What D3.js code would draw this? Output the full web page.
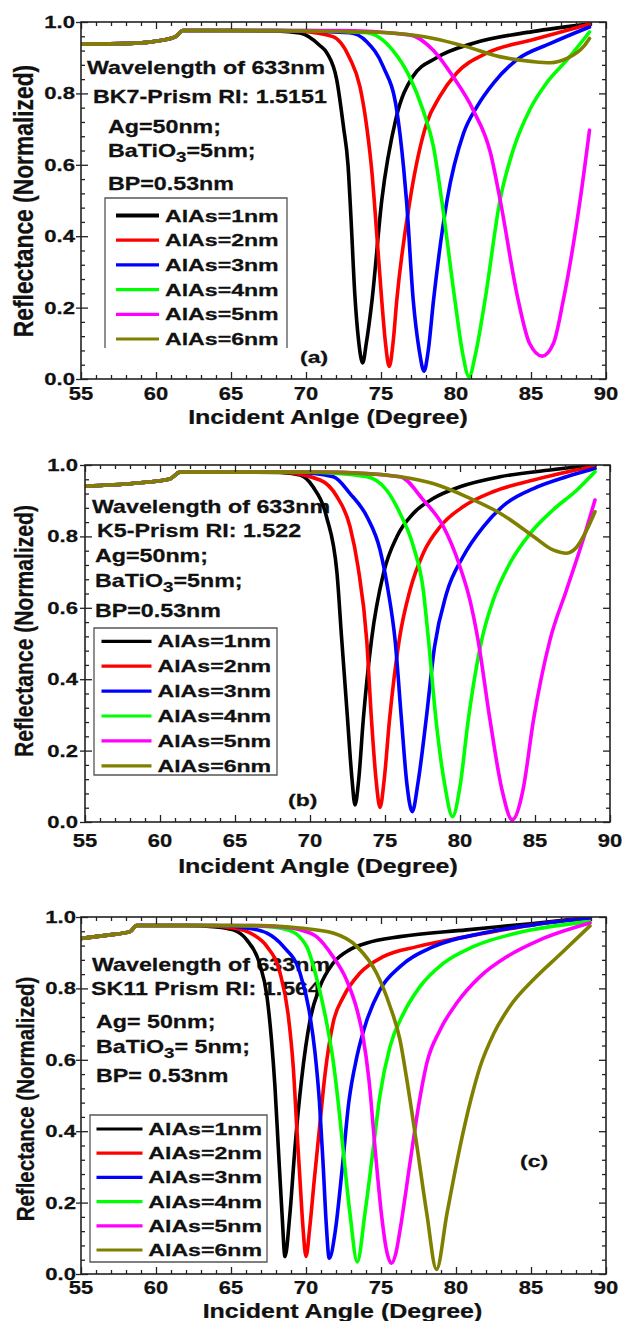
<!DOCTYPE html>
<html><head><meta charset="utf-8">
<script src="https://cdn.jsdelivr.net/npm/d3@7"></script>
<style>
body{margin:0;background:#fff}
svg{display:block}
text{font-family:"Liberation Sans",Arial,sans-serif;font-weight:bold;fill:#111;stroke:#111;stroke-width:0.25}
</style>
</head><body>
<svg id="c" width="622" height="1321"></svg>
<script>
// ---------------- DATA ----------------
const xTicks = [55, 60, 65, 70, 75, 80, 85, 90];
const xTickLabels = ["55", "60", "65", "70", "75", "80", "85", "90"];
const yTicks = [0.0, 0.2, 0.4, 0.6, 0.8, 1.0];
const yTickLabels = ["0.0", "0.2", "0.4", "0.6", "0.8", "1.0"];
const seriesNames = ["AlAs=1nm", "AlAs=2nm", "AlAs=3nm", "AlAs=4nm", "AlAs=5nm", "AlAs=6nm"];
const seriesColors = ["#000000", "#ff0000", "#0000ff", "#00ff00", "#ff00ff", "#808000"];

// panel (a) BK7
const baseA = [[55,0.938],[58.3,0.940],[60.3,0.948],[61.3,0.959],[61.8,0.976]];
const a1 = [[65,0.976],[68,0.975],[69.6,0.969],[70.9,0.935],[71.4,0.913],[72.05,0.838],[72.5,0.706],[72.8,0.60],[73.0,0.45],[73.25,0.24],[73.5,0.11],[73.78,0.045],[74.02,0.10],[74.4,0.22],[75.05,0.50],[76.0,0.73],[77.1,0.846],[78.7,0.90],[81.1,0.94],[85.1,0.973],[88.9,0.994]];
const a2 = [[68,0.976],[69.6,0.974],[71.8,0.959],[72.9,0.90],[73.6,0.818],[74.05,0.706],[74.4,0.577],[74.55,0.50],[75.05,0.22],[75.3,0.10],[75.55,0.035],[75.8,0.10],[76.05,0.22],[76.93,0.50],[78.05,0.717],[78.9,0.79],[80.05,0.857],[82.05,0.913],[85.1,0.95],[88.9,0.994]];
const a3 = [[68,0.976],[72.9,0.97],[74.05,0.945],[75.15,0.875],[76.05,0.753],[76.5,0.595],[76.7,0.50],[77.15,0.22],[77.55,0.08],[77.87,0.022],[78.15,0.08],[78.5,0.22],[79.4,0.50],[80.5,0.688],[81.4,0.763],[82.5,0.829],[84.05,0.894],[86.3,0.94],[88.9,0.986]];
const a4 = [[70,0.976],[74.05,0.97],[75.8,0.92],[76.9,0.847],[77.8,0.753],[78.5,0.65],[79.05,0.50],[79.93,0.22],[80.45,0.07],[80.87,0.006],[81.3,0.07],[81.93,0.22],[82.93,0.50],[83.8,0.64],[84.9,0.753],[86.05,0.83],[87.4,0.894],[88.9,0.972]];
const a5 = [[72,0.976],[76.9,0.964],[78.5,0.92],[79.8,0.847],[81.15,0.753],[82.3,0.633],[82.95,0.50],[84.15,0.22],[84.9,0.10],[85.75,0.064],[86.5,0.10],[87.15,0.22],[88.27,0.50],[88.9,0.697]];
const a6 = [[69.6,0.975],[74.05,0.972],[76.3,0.967],[78.5,0.954],[80.7,0.931],[82.9,0.903],[85.15,0.889],[86.3,0.886],[87.4,0.898],[88.5,0.931],[88.9,0.954]];

// panel (b) K5
const baseB = [[55,0.941],[58.3,0.949],[60.67,0.961],[61.33,0.980]];
const b1 = [[65,0.980],[68,0.979],[69.33,0.972],[70.2,0.939],[71.1,0.855],[71.8,0.697],[72.1,0.52],[72.5,0.29],[72.8,0.12],[73.0,0.048],[73.25,0.12],[73.55,0.286],[74.1,0.51],[74.9,0.697],[75.8,0.80],[76.9,0.865],[78.2,0.906],[80.0,0.939],[82.67,0.967],[86.0,0.986],[89.0,1.0]];
const b2 = [[68,0.980],[70.67,0.958],[71.8,0.911],[72.67,0.827],[73.2,0.715],[73.78,0.51],[74.1,0.286],[74.4,0.12],[74.67,0.041],[74.95,0.12],[75.3,0.286],[75.95,0.51],[76.67,0.65],[77.55,0.753],[78.67,0.827],[80.2,0.883],[82.2,0.925],[84.9,0.958],[89.0,0.997]];
const b3 = [[69,0.980],[71.55,0.967],[72.67,0.92],[73.8,0.855],[74.67,0.762],[75.2,0.65],[75.67,0.51],[76.1,0.286],[76.45,0.11],[76.82,0.029],[77.2,0.11],[77.75,0.29],[78.3,0.49],[79.1,0.64],[80.2,0.743],[81.55,0.827],[83.1,0.893],[84.9,0.934],[87.1,0.967],[89.0,0.99]];
const b4 = [[70,0.980],[73.8,0.967],[75.1,0.93],[76.0,0.865],[76.9,0.771],[77.55,0.65],[77.9,0.51],[78.4,0.286],[79.0,0.10],[79.5,0.015],[80.0,0.10],[80.55,0.286],[81.45,0.51],[82.2,0.62],[83.33,0.725],[84.67,0.808],[86.2,0.874],[87.8,0.93],[89.0,0.981]];
const b5 = [[71,0.980],[76.0,0.967],[77.55,0.902],[78.9,0.827],[80.0,0.715],[80.67,0.62],[81.2,0.51],[82.0,0.286],[82.8,0.09],[83.48,0.006],[84.2,0.09],[84.9,0.286],[86.0,0.51],[87.1,0.65],[88.2,0.79],[89.0,0.902]];
const b6 = [[70,0.980],[73.8,0.976],[76.0,0.967],[78.2,0.948],[80.45,0.911],[82.67,0.865],[84.9,0.80],[86.2,0.762],[87.1,0.753],[87.8,0.771],[88.45,0.818],[89.0,0.869]];

// panel (c) SK11
const baseC = [[55,0.940],[56.9,0.950],[58.27,0.959],[58.7,0.976]];
const c1 = [[62,0.976],[63.8,0.973],[65.15,0.964],[66.05,0.936],[66.9,0.87],[67.4,0.777],[67.7,0.655],[67.93,0.525],[68.15,0.357],[68.4,0.17],[68.6,0.049],[68.93,0.17],[69.27,0.357],[69.7,0.543],[70.27,0.711],[70.93,0.805],[71.8,0.87],[72.9,0.908],[74.05,0.927],[76.27,0.945],[80.7,0.964],[85.15,0.982],[88.93,0.999]];
const c2 = [[63,0.976],[65.15,0.969],[66.5,0.95],[67.4,0.917],[68.27,0.843],[68.8,0.73],[69.15,0.58],[69.4,0.40],[69.6,0.263],[69.8,0.13],[70.0,0.049],[70.25,0.13],[70.55,0.263],[70.93,0.422],[71.27,0.56],[71.8,0.702],[72.5,0.777],[73.6,0.843],[75.15,0.889],[77.4,0.917],[80.7,0.945],[85.15,0.978],[88.93,0.997]];
const c3 = [[64,0.976],[66.05,0.969],[67.4,0.955],[68.5,0.917],[69.6,0.843],[70.2,0.74],[70.6,0.62],[70.9,0.48],[71.15,0.30],[71.35,0.14],[71.55,0.044],[71.95,0.12],[72.4,0.29],[72.85,0.48],[73.4,0.61],[74.05,0.71],[74.93,0.796],[76.27,0.861],[78.5,0.917],[81.8,0.955],[85.15,0.978],[88.93,0.997]];
const c4 = [[65,0.976],[67.5,0.973],[68.93,0.962],[70.05,0.917],[70.7,0.83],[71.3,0.72],[71.8,0.60],[72.15,0.48],[72.5,0.338],[72.93,0.17],[73.42,0.034],[73.93,0.17],[74.5,0.357],[74.93,0.50],[75.6,0.637],[76.5,0.73],[77.6,0.805],[79.15,0.87],[81.15,0.917],[84.05,0.955],[88.93,0.987]];
const c5 = [[66,0.976],[68.5,0.972],[69.6,0.964],[70.7,0.945],[71.8,0.889],[72.7,0.824],[73.4,0.74],[73.8,0.665],[74.2,0.543],[74.65,0.33],[75.05,0.16],[75.35,0.07],[75.7,0.03],[76.0,0.06],[76.27,0.123],[76.93,0.31],[77.5,0.47],[78.05,0.59],[78.93,0.683],[80.05,0.759],[81.6,0.833],[83.4,0.889],[85.6,0.936],[88.93,0.983]];
const c6 = [[67,0.976],[69.6,0.969],[71.8,0.955],[73.4,0.917],[74.7,0.843],[75.6,0.75],[76.27,0.655],[76.7,0.55],[77.4,0.357],[78.05,0.17],[78.7,0.013],[79.4,0.17],[80.27,0.357],[81.0,0.49],[81.6,0.58],[82.5,0.672],[83.6,0.75],[85.15,0.824],[86.93,0.895],[88.93,0.975]];

// ---------------- LAYOUT ----------------
const panels = [
  {x0:81, y0:22, w:525, h:357, base:baseA, series:[a1,a2,a3,a4,a5,a6], yLabDx:-6, xLabDy:21,
   xTitle:"Incident Anlge (Degree)", xTitleX:328, xTitleY:424, yTitleX:33, yTitleY:201, yTitleSize:22.8,
   tag:"(a)", tagX:300, tagY:363,
   notes:[{t:"Wavelength of 633nm",x:87,y:74},{t:"BK7-Prism RI: 1.5151",x:93,y:103},{t:"Ag=50nm;",x:108,y:133},{t:"BaTiO|3|=5nm;",x:108,y:157},{t:"BP=0.53nm",x:108,y:190}],
   leg:{x1:105,x2:287,top:198,bottom:348,noBottom:true,lx1:116,lx2:159,tx:165,row0:221.5,dy:24.7}},
  {x0:85, y0:465, w:525, h:357, base:baseB, series:[b1,b2,b3,b4,b5,b6], yLabDx:-7, xLabDy:24.5,
   xTitle:"Incident Angle (Degree)", xTitleX:318, xTitleY:873, yTitleX:33, yTitleY:631, yTitleSize:21.1,
   tag:"(b)", tagX:288, tagY:806,
   notes:[{t:"Wavelength of 633nm",x:92,y:512.5},{t:"K5-Prism RI: 1.522",x:97,y:536.5},{t:"Ag=50nm;",x:95,y:561.5},{t:"BaTiO|3|=5nm;",x:95,y:586.5},{t:"BP=0.53nm",x:95,y:617}],
   leg:{x1:94,x2:277,top:628,bottom:775,noBottom:false,lx1:101.5,lx2:151.5,tx:157.5,row0:647.3,dy:24.9}},
  {x0:81, y0:917, w:525, h:357, base:baseC, series:[c1,c2,c3,c4,c5,c6], yLabDx:-5, xLabDy:20,
   xTitle:"Incident Angle (Degree)", xTitleX:342.5, xTitleY:1318, yTitleX:34, yTitleY:1099, yTitleSize:20.5,
   tag:"(c)", tagX:520, tagY:1167,
   notes:[{t:"Wavelength of 633nm",x:92,y:970.5},{t:"SK11 Prism RI: 1.564",x:91,y:995},{t:"Ag= 50nm;",x:96,y:1028},{t:"BaTiO|3|= 5nm;",x:96,y:1053},{t:"BP= 0.53nm",x:96,y:1081.5}],
   leg:{x1:90,x2:267,top:1115,bottom:1262,noBottom:false,lx1:96.5,lx2:142.5,tx:148.3,row0:1135,dy:24.2}}
];

// ---------------- DRAW ----------------
const svg = d3.select("#c");
svg.append("rect").attr("width",622).attr("height",1321).attr("fill","#fff");

function T(g, x, y, s, size, sx, anchor){
  const t = g.append("text")
    .attr("transform", `translate(${x},${y}) scale(${sx},1)`)
    .attr("font-size", size)
    .attr("text-anchor", anchor || "start");
  if (s != null) t.text(s);
  return t;
}

const minorX = d3.range(55, 91).filter(v => v % 5 !== 0);
const minorY = d3.range(1, 25).filter(i => i % 5 !== 0).map(i => i * 0.04);

panels.forEach((p, pi) => {
  const x = d3.scaleLinear().domain([55, 90]).range([p.x0, p.x0 + p.w]);
  const y = d3.scaleLinear().domain([0, 1]).range([p.y0 + p.h, p.y0]);
  const g = svg.append("g");

  // annotations
  p.notes.forEach(n => {
    if (n.t.includes("|")) {
      const parts = n.t.split("|");
      const t = T(g, n.x, n.y, null, 18.6, 1.25);
      t.append("tspan").text(parts[0]);
      t.append("tspan").attr("font-size", 15).attr("dy", 5).text(parts[1]);
      t.append("tspan").attr("dy", -5).text(parts[2]);
    } else {
      T(g, n.x, n.y, n.t, 18.6, 1.25);
    }
  });

  // legend
  const L = p.leg;
  const lg = g.append("g");
  const bp = L.noBottom
    ? `M${L.x1},${L.bottom}V${L.top}H${L.x2}V${L.bottom}`
    : `M${L.x1},${L.top}H${L.x2}V${L.bottom}H${L.x1}Z`;
  lg.append("path").attr("d", bp).attr("fill", "none").attr("stroke", "#555").attr("stroke-width", 1.3);
  seriesNames.forEach((nm, i) => {
    const ty = L.row0 + i * L.dy;
    lg.append("line").attr("x1", L.lx1).attr("x2", L.lx2).attr("y1", ty - 6).attr("y2", ty - 6)
      .attr("stroke", seriesColors[i]).attr("stroke-width", (pi === 0 && i === 0) ? 4 : 3.2);
    T(lg, L.tx, ty, nm, 17, 1.36);
  });

  // curves
  const clipId = "clip" + pi;
  svg.append("clipPath").attr("id", clipId).append("rect")
    .attr("x", p.x0).attr("y", p.y0).attr("width", p.w).attr("height", p.h);
  const line = d3.line().x(d => x(d[0])).y(d => y(d[1])).curve(d3.curveMonotoneX);
  const cg = g.append("g").attr("clip-path", `url(#${clipId})`);
  p.series.forEach((s, i) => {
    cg.append("path").datum(p.base.concat(s)).attr("d", line)
      .attr("fill", "none").attr("stroke", seriesColors[i]).attr("stroke-width", 3.6)
      .attr("stroke-linejoin", "round").attr("stroke-linecap", "round");
  });

  // axes ticks
  const tickStyle = sel => { sel.select(".domain").remove(); sel.selectAll("line").attr("stroke", "#222").attr("stroke-width", 1.3); };
  const yb = p.y0 + p.h, xr = p.x0 + p.w;
  g.append("g").attr("transform", `translate(0,${yb})`).call(d3.axisBottom(x).tickValues(xTicks).tickSize(-7).tickSizeOuter(0).tickFormat("")).call(tickStyle);
  g.append("g").attr("transform", `translate(0,${yb})`).call(d3.axisBottom(x).tickValues(minorX).tickSize(-4).tickSizeOuter(0).tickFormat("")).call(tickStyle);
  g.append("g").attr("transform", `translate(0,${p.y0})`).call(d3.axisTop(x).tickValues(xTicks).tickSize(-7).tickSizeOuter(0).tickFormat("")).call(tickStyle);
  g.append("g").attr("transform", `translate(0,${p.y0})`).call(d3.axisTop(x).tickValues(minorX).tickSize(-4).tickSizeOuter(0).tickFormat("")).call(tickStyle);
  g.append("g").attr("transform", `translate(${p.x0},0)`).call(d3.axisLeft(y).tickValues(yTicks).tickSize(-7).tickSizeOuter(0).tickFormat("")).call(tickStyle);
  g.append("g").attr("transform", `translate(${p.x0},0)`).call(d3.axisLeft(y).tickValues(yTicks).tickSize(5).tickSizeOuter(0).tickFormat("")).call(tickStyle);
  g.append("g").attr("transform", `translate(${p.x0},0)`).call(d3.axisLeft(y).tickValues(minorY).tickSize(-4).tickSizeOuter(0).tickFormat("")).call(tickStyle);
  g.append("g").attr("transform", `translate(${xr},0)`).call(d3.axisRight(y).tickValues(yTicks).tickSize(-7).tickSizeOuter(0).tickFormat("")).call(tickStyle);
  g.append("g").attr("transform", `translate(${xr},0)`).call(d3.axisRight(y).tickValues(minorY).tickSize(-4).tickSizeOuter(0).tickFormat("")).call(tickStyle);

  // frame
  g.append("rect").attr("x", p.x0).attr("y", p.y0).attr("width", p.w).attr("height", p.h)
    .attr("fill", "none").attr("stroke", "#222").attr("stroke-width", 1.6);

  // tick labels
  xTicks.forEach((v, i) => T(g, x(v), yb + p.xLabDy, xTickLabels[i], 18, 1.22, "middle"));
  yTicks.forEach((v, i) => T(g, p.x0 + p.yLabDx, y(v) + 6, yTickLabels[i], 17, 1.3, "end"));

  // titles
  T(g, p.xTitleX, p.xTitleY, p.xTitle, 20.5, 1.22, "middle");
  g.append("text").attr("transform", `translate(${p.yTitleX},${p.yTitleY}) rotate(-90) scale(1,1.2)`)
    .attr("font-size", p.yTitleSize).attr("text-anchor", "middle").text("Reflectance (Normalized)");

  // panel tag
  T(g, p.tagX, p.tagY, p.tag, 17, 1.35);
});
</script>
</body></html>
